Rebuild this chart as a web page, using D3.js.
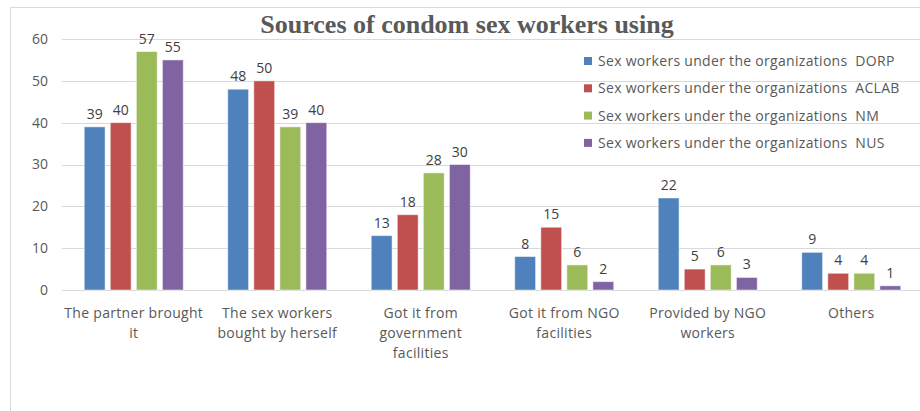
<!DOCTYPE html>
<html>
<head>
<meta charset="utf-8">
<style>
  body { margin: 0; background: #fff; }
  text { font-family: "Open Sans", sans-serif; fill: #595959; }
</style>
</head>
<body>
<script src="https://cdn.jsdelivr.net/npm/d3@7"></script>
<script>
// data
var categories = ["The partner brought\nit", "The sex workers\nbought by herself",
                  "Got it from\ngovernment\nfacilities", "Got it from NGO\nfacilities",
                  "Provided by NGO\nworkers", "Others"];
var seriesNames = ["Sex workers under the organizations  DORP",
                   "Sex workers under the organizations  ACLAB",
                   "Sex workers under the organizations  NM",
                   "Sex workers under the organizations  NUS"];
var dorp  = [39, 48, 13, 8, 22, 9];
var aclab = [40, 50, 18, 15, 5, 4];
var nm    = [57, 39, 28, 6, 6, 4];
var nus   = [55, 40, 30, 2, 3, 1];
var yTicks = [0, 10, 20, 30, 40, 50, 60];
var colors = ["#4F81BD", "#C0504D", "#9BBB59", "#8064A2"];

var allSeries = [dorp, aclab, nm, nus];

var W = 920, H = 411;
var svg = d3.select("body").append("svg").attr("width", W).attr("height", H);

// outer frame (only top and left edges visible)
svg.append("path")
   .attr("d", "M10.5," + H + "V7.5H" + W)
   .attr("fill", "none").attr("stroke", "#d9d9d9");

var x0 = d3.scaleBand().domain(categories).range([62, 923]).paddingInner(0.31).paddingOuter(0.155);
var x1 = d3.scaleBand().domain(d3.range(4)).range([0, x0.bandwidth()]).paddingInner(0.2);
var y = d3.scaleLinear().domain([0, 60]).range([290, 39]);

// gridlines
svg.append("g").selectAll("line").data(yTicks).enter().append("line")
   .attr("x1", 62).attr("x2", W)
   .attr("y1", function(d) { return Math.round(y(d)) + 0.5; })
   .attr("y2", function(d) { return Math.round(y(d)) + 0.5; })
   .attr("stroke", "#d9d9d9").attr("stroke-width", 1);

// y axis labels
var yAxis = svg.append("g").attr("transform", "translate(62,0)")
   .call(d3.axisLeft(y).tickValues(yTicks).tickSize(0).tickPadding(14));
yAxis.select(".domain").remove();
yAxis.selectAll("text").style("font-size", "14px").attr("fill", "#595959")
   .style("font-family", "'Open Sans', sans-serif");

// bars
var groups = svg.append("g").selectAll("g").data(categories).enter().append("g")
   .attr("transform", function(d) { return "translate(" + x0(d) + ",0)"; });

groups.each(function(cat, ci) {
  var g = d3.select(this);
  var vals = allSeries.map(function(s, si) { return {si: si, v: s[ci]}; });
  g.selectAll("rect").data(vals).enter().append("rect")
   .attr("x", function(d) { return x1(d.si); })
   .attr("width", x1.bandwidth())
   .attr("y", function(d) { return y(d.v); })
   .attr("height", function(d) { return y(0) - y(d.v); })
   .attr("fill", function(d) { return colors[d.si]; })
   .attr("stroke", "#fff").attr("stroke-opacity", 0.5).attr("stroke-width", 1);
  g.selectAll("text").data(vals).enter().append("text")
   .attr("x", function(d) { return x1(d.si) + x1.bandwidth() / 2; })
   .attr("y", function(d) { return y(d.v) - 8; })
   .attr("text-anchor", "middle")
   .style("font-size", "14px").style("fill", "#404040")
   .text(function(d) { return d.v; });
});

// category labels
svg.append("g").selectAll("text").data(categories).enter().append("text")
   .attr("x", function(d) { return x0(d) + x0.bandwidth() / 2; })
   .attr("y", 318)
   .attr("text-anchor", "middle")
   .style("font-size", "14px").style("letter-spacing", "0.3px")
   .each(function(d) {
     var t = d3.select(this);
     d.split("\n").forEach(function(line, i) {
       t.append("tspan").attr("x", t.attr("x")).attr("dy", i ? 20 : 0).text(line);
     });
   });

// title
svg.append("text")
   .attr("x", 467).attr("y", 33)
   .attr("text-anchor", "middle")
   .style("font-family", "'Liberation Serif', 'Times New Roman', serif")
   .style("font-weight", "bold").style("font-size", "26px")
   .style("fill", "#595959")
   .text("Sources of condom sex workers using");

// legend
var legend = svg.append("g").selectAll("g").data(seriesNames).enter().append("g")
   .attr("transform", function(d, i) { return "translate(584," + (61 + i * 27.3) + ")"; });
legend.append("rect").attr("x", 0).attr("y", -4).attr("width", 8).attr("height", 8)
   .attr("fill", function(d, i) { return colors[i]; });
legend.append("text").attr("x", 14).attr("y", 0).attr("dy", "0.35em")
   .style("font-size", "14px").style("letter-spacing", "0.3px").style("white-space", "pre")
   .text(function(d) { return d; });
</script>
</body>
</html>
